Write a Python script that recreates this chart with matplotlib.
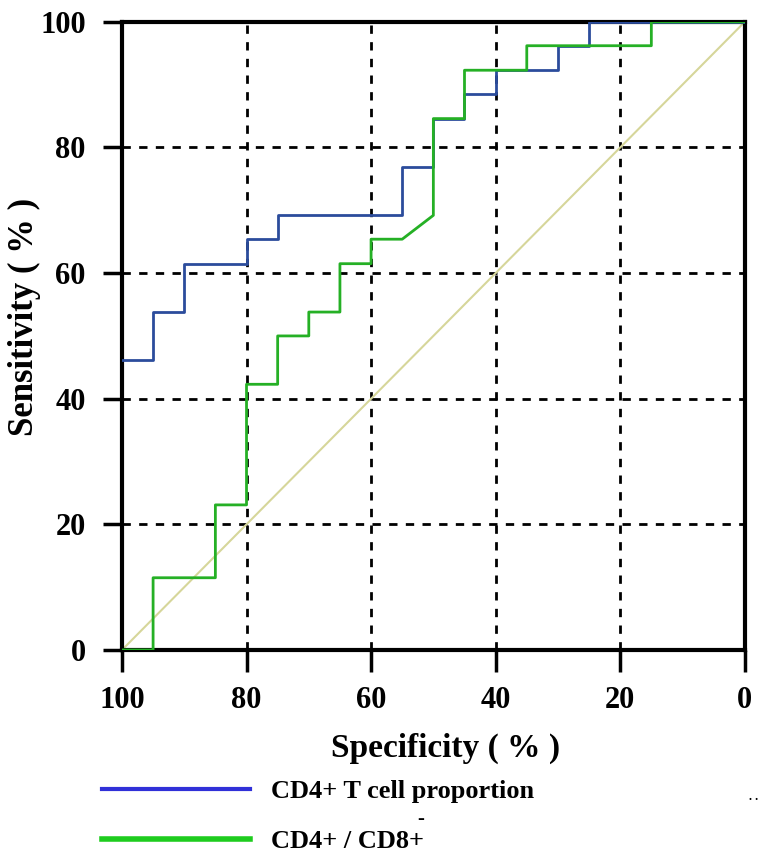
import matplotlib
matplotlib.use('Agg')
import matplotlib.pyplot as plt
from matplotlib.lines import Line2D

plt.rcParams['font.family'] = ['Liberation Serif', 'DejaVu Serif']
plt.rcParams['font.weight'] = 'bold'

# ROC curves: specificity (%) vs sensitivity (%)
spec_cd4 = [100, 95, 95, 90, 90, 80, 80, 75, 75, 55, 55, 50, 50, 45, 45, 40, 40, 30, 30, 25, 25, 0]
sens_cd4 = [46.2, 46.2, 53.8, 53.8, 61.5, 61.5, 65.4, 65.4, 69.2, 69.2, 76.9, 76.9, 84.6, 84.6,
            88.5, 88.5, 92.3, 92.3, 96.2, 96.2, 100, 100]

spec_ratio = [100, 95, 95, 85, 85, 80, 80, 75, 75, 70, 70, 65, 65, 60, 60, 55, 50, 50, 45, 45,
              35, 35, 15, 15, 0]
sens_ratio = [0, 0, 11.5, 11.5, 23.1, 23.1, 42.3, 42.3, 50, 50, 53.8, 53.8, 61.5, 61.5, 65.4,
              65.4, 69.2, 84.6, 84.6, 92.3, 92.3, 96.2, 96.2, 100, 100]

ref_x = [100, 0]
ref_y = [0, 100]

ticks = [0, 20, 40, 60, 80, 100]

fig = plt.figure(figsize=(7.67, 8.64), dpi=100)
ax = fig.add_axes([0.159, 0.2477, 0.812, 0.727])

ax.plot(ref_x, ref_y, color='#d6d69a', lw=1.5, zorder=2)
ax.plot(spec_cd4, sens_cd4, color='#2b4c9c', lw=2, zorder=3)
ax.plot(spec_ratio, sens_ratio, color='#25b025', lw=2, zorder=4)

ax.set_xlim(100, 0)
ax.set_ylim(0, 100)
ax.set_xticks(ticks)
ax.set_yticks(ticks)
ax.tick_params(labelsize=22, width=2.5, direction='out')
ax.tick_params(axis='y', length=14, pad=12)
ax.tick_params(axis='x', length=16, pad=10)
for lab in ax.get_xticklabels() + ax.get_yticklabels():
    lab.set_fontweight('bold')

for v in [20, 40, 60, 80]:
    ax.axvline(v, color='black', lw=2, ls=(0, (3, 3)), zorder=1)
    ax.axhline(v, color='black', lw=2, ls=(0, (3, 3)), zorder=1)

for s in ax.spines.values():
    s.set_linewidth(3)

ax.set_xlabel('Specificity ( % )', fontsize=24, fontweight='bold')
ax.set_ylabel('Sensitivity ( % )', fontsize=25, fontweight='bold')
ax.xaxis.set_label_coords(0.52, -0.131)
ax.yaxis.set_label_coords(-0.13, 0.53)

# legend under the plot
handles = [Line2D([], [], color='#3030d8', lw=3), Line2D([], [], color='#1ecc1e', lw=4)]
labels = ['CD4+ T cell proportion', 'CD4+ / CD8+']
fig.legend(handles, labels, loc='upper left', bbox_to_anchor=(0.102, 0.125), frameon=False,
           handlelength=5.6, handletextpad=0.8, labelspacing=1.0,
           prop={'family': 'Liberation Serif', 'weight': 'bold', 'size': 19})
fig.text(0.549, 0.052, '-', fontsize=15, fontweight='bold', ha='center', va='center')
fig.text(0.983, 0.077, '. .', fontsize=9, fontweight='bold', ha='center', va='center')

fig.savefig('out.png', dpi=100)
